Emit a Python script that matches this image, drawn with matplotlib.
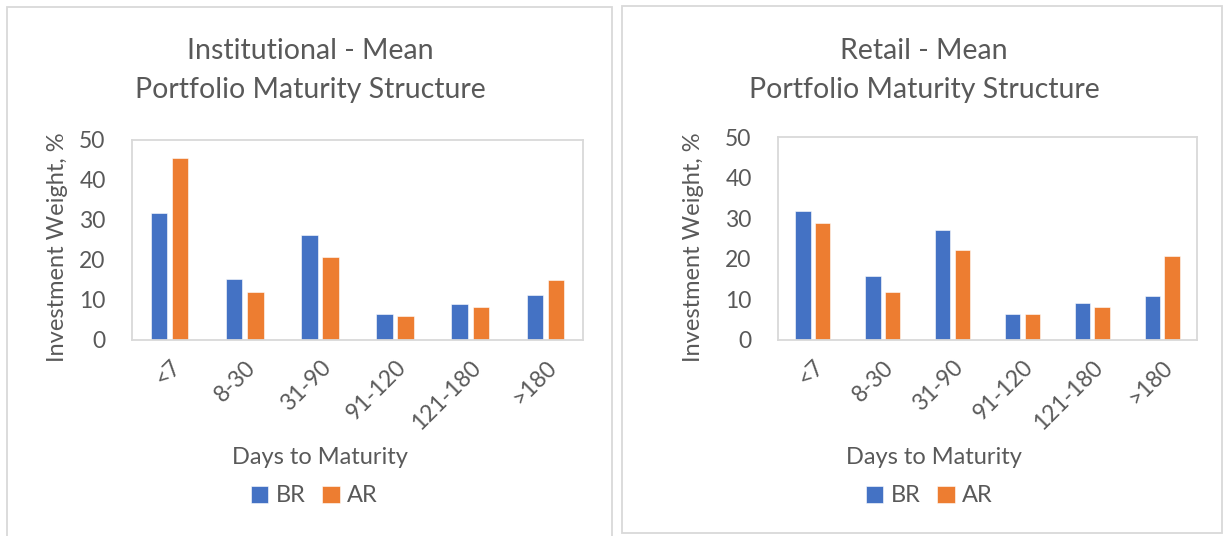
import matplotlib.pyplot as plt
from matplotlib.patches import Rectangle

# data
categories = ["<7", "8-30", "31-90", "91-120", "121-180", ">180"]
inst_br = [31.7, 15.2, 26.3, 6.5, 9.0, 11.2]
inst_ar = [45.5, 12.1, 20.8, 6.0, 8.3, 15.0]
retail_br = [31.8, 15.8, 27.1, 6.3, 9.0, 10.8]
retail_ar = [28.8, 11.8, 22.1, 6.3, 8.1, 20.6]
yticks = [0, 10, 20, 30, 40, 50]

BLUE = "#4472C4"
ORANGE = "#ED7D31"
TEXT = "#595959"
FRAME = "#D9D9D9"

W, H = 1224, 536
plt.rcParams["font.family"] = ["Lato", "DejaVu Sans"]

fig = plt.figure(figsize=(W / 100, H / 100), dpi=100)


def fx(px):
    return px / W


def fy(py):
    return 1 - py / H


def panel(box, axbox, title, br, ar, ylab_x, title_x, xlab_x, leg_x):
    x0, y0, x1, y1 = box
    fig.patches.append(
        Rectangle((fx(x0), fy(y1)), fx(x1 - x0), (y1 - y0) / H,
                  transform=fig.transFigure, fill=False, edgecolor=FRAME, lw=1.3)
    )
    l, t, r, b = axbox
    ax = fig.add_axes([fx(l), fy(b), fx(r - l), (b - t) / H])
    pos = list(range(len(categories)))
    w = 0.22
    ax.bar([p - 0.14 for p in pos], br, width=w, color=BLUE, label="BR",
           edgecolor="white", linewidth=0.4)
    ax.bar([p + 0.14 for p in pos], ar, width=w, color=ORANGE, label="AR",
           edgecolor="white", linewidth=0.4)
    ax.set_xlim(-0.5, len(categories) - 0.5)
    ax.set_ylim(0, 50)
    ax.set_yticks(yticks)
    ax.set_xticks(pos)
    ax.set_xticklabels(categories, rotation=45, ha="right", rotation_mode="anchor")
    ax.tick_params(axis="both", length=0, labelsize=16.5, colors=TEXT)
    ax.tick_params(axis="y", pad=19)
    ax.tick_params(axis="x", pad=12)
    for s in ax.spines.values():
        s.set_color(FRAME)
        s.set_linewidth(1.3)

    line1, line2 = title
    fig.text(fx(title_x), fy(59), line1, ha="center", va="baseline",
             fontsize=20.5, color=TEXT)
    fig.text(fx(title_x), fy(98), line2, ha="center", va="baseline",
             fontsize=20.5, color=TEXT)
    fig.text(fx(ylab_x), fy(247), "Investment Weight, %", rotation=90,
             ha="center", va="center", fontsize=17, color=TEXT)
    fig.text(fx(xlab_x), fy(464), "Days to Maturity", ha="center", va="baseline",
             fontsize=17, color=TEXT)
    ax.legend(loc="center", bbox_to_anchor=(fx(leg_x), fy(496)),
              bbox_transform=fig.transFigure, ncol=2, frameon=False,
              fontsize=17, labelcolor=TEXT, handlelength=0.75, handleheight=0.75,
              handletextpad=0.3, columnspacing=0.7)
    return ax


panel((7, 7, 612, 545), (132, 140, 583, 340),
      ("Institutional - Mean", "Portfolio Maturity Structure"),
      inst_br, inst_ar, ylab_x=58, title_x=310, xlab_x=320, leg_x=314)
panel((622, 6, 1222, 533), (778, 137, 1197, 340),
      ("Retail - Mean", "Portfolio Maturity Structure"),
      retail_br, retail_ar, ylab_x=694, title_x=924, xlab_x=934, leg_x=929)

fig.savefig("out.png", dpi=100, facecolor="white")
